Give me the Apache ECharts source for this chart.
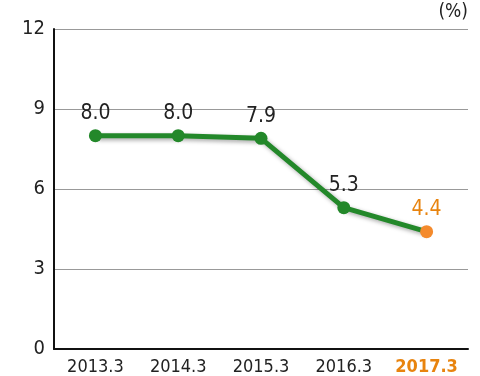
<!DOCTYPE html>
<html>
<head>
<meta charset="utf-8">
<script src="https://cdn.jsdelivr.net/npm/echarts@6/dist/echarts.min.js"></script>
<style>
  html, body { margin: 0; padding: 0; background: #fff; }
  #chart { width: 480px; height: 376px; }
</style>
</head>
<body>
<div id="chart"></div>
<script>
// values
var categories = ['2013.3', '2014.3', '2015.3', '2016.3', '2017.3'];
var ratios = [8.0, 8.0, 7.9, 5.3, 4.4];
var yTicks = [0, 3, 6, 9, 12];

var FONT = '"DejaVu Sans Condensed", "Liberation Sans Narrow", sans-serif';
var GREEN = '#23882a';
var ORANGE = '#f48a2c';
var ORANGE_TEXT = '#e8840f';

var last = ratios.length - 1;
var seriesData = ratios.map(function(v, i){
    if(i == last){
        return {
            value: v,
            itemStyle: {color: ORANGE},
            label: {color: ORANGE_TEXT}
        };
    }
    return v;
});

var chart = echarts.init(document.getElementById('chart'), null, {renderer: 'canvas'});

var option = {
    animation: false,
    grid: {left: 54, right: 12, top: 29, bottom: 27, containLabel: false},
    graphic: [{
        type: 'text',
        right: 12,
        top: 3,
        style: {text: '(%)', font: '19px ' + FONT, fill: '#222'}
    }],
    xAxis: {
        type: 'category',
        data: categories,
        boundaryGap: true,
        axisLine: {lineStyle: {color: '#111', width: 2}},
        axisTick: {show: false},
        axisLabel: {
            interval: 0,
            margin: 9,
            fontFamily: FONT,
            fontSize: 18,
            color: '#222',
            formatter: function(v, i){
                return i == last ? '{hl|' + v + '}' : v;
            },
            rich: {
                hl: {fontFamily: FONT, fontSize: 18, color: ORANGE_TEXT, fontWeight: 'bold'}
            }
        }
    },
    yAxis: {
        type: 'value',
        min: yTicks[0],
        max: yTicks[yTicks.length - 1],
        interval: 3,
        axisLine: {show: true, lineStyle: {color: '#111', width: 2}},
        axisTick: {show: false},
        axisLabel: {margin: 9, fontFamily: FONT, fontSize: 20, color: '#222'},
        splitLine: {lineStyle: {color: '#999', width: 1}}
    },
    series: [{
        type: 'line',
        data: seriesData,
        symbol: 'circle',
        symbolSize: 13,
        itemStyle: {color: GREEN},
        lineStyle: {
            color: GREEN,
            width: 5,
            shadowColor: 'rgba(0,0,0,0.35)',
            shadowBlur: 4,
            shadowOffsetX: 2,
            shadowOffsetY: 2
        },
        label: {
            show: true,
            position: 'top',
            distance: 5,
            fontFamily: FONT,
            fontSize: 21,
            color: '#222',
            formatter: function(p){ return p.value.toFixed(1); }
        }
    }]
};

chart.setOption(option);
</script>
</body>
</html>
